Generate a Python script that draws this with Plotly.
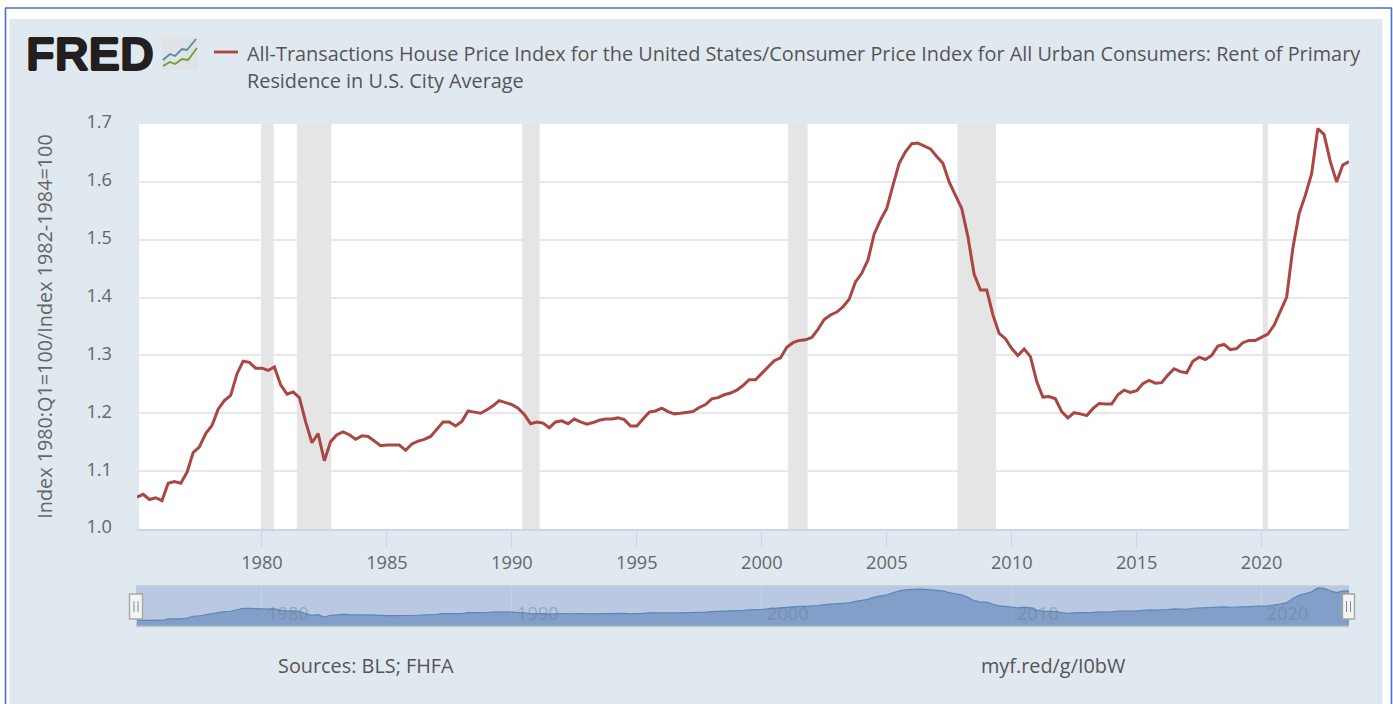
import pandas as pd
import plotly.graph_objects as go

TITLE_LINE_1 = "All-Transactions House Price Index for the United States/Consumer Price Index for All Urban Consumers: Rent of Primary"
TITLE_LINE_2 = "Residence in U.S. City Average"
Y_TITLE = "Index 1980:Q1=100/Index 1982-1984=100"
SOURCES = "Sources: BLS; FHFA"
SHORT_URL = "myf.red/g/I0bW"

START_QUARTER = "1975-01-01"
# quarterly values, one row per year, 1975 Q1 to 2023 Q3
ratio = [
    1.055, 1.060, 1.051, 1.054,
    1.049, 1.079, 1.082, 1.079,
    1.098, 1.132, 1.142, 1.165,
    1.179, 1.207, 1.222, 1.231,
    1.268, 1.290, 1.288, 1.278,
    1.278, 1.274, 1.280, 1.249,
    1.233, 1.237, 1.227, 1.185,
    1.149, 1.165, 1.118, 1.151,
    1.163, 1.168, 1.163, 1.155,
    1.161, 1.160, 1.152, 1.144,
    1.145, 1.145, 1.145, 1.136,
    1.147, 1.152, 1.155, 1.160,
    1.172, 1.185, 1.185, 1.178,
    1.186, 1.204, 1.202, 1.200,
    1.206, 1.213, 1.222, 1.218,
    1.215, 1.209, 1.198, 1.182,
    1.185, 1.183, 1.175, 1.185,
    1.187, 1.182, 1.190, 1.185,
    1.181, 1.184, 1.188, 1.190,
    1.190, 1.192, 1.189, 1.178,
    1.178, 1.190, 1.202, 1.204,
    1.209, 1.203, 1.199, 1.200,
    1.202, 1.203, 1.210, 1.215,
    1.225, 1.227, 1.232, 1.235,
    1.240, 1.248, 1.258, 1.258,
    1.269, 1.280, 1.291, 1.296,
    1.314, 1.322, 1.326, 1.327,
    1.331, 1.345, 1.362, 1.370,
    1.375, 1.384, 1.397, 1.427,
    1.442, 1.465, 1.510, 1.534,
    1.554, 1.594, 1.632, 1.652,
    1.666, 1.667, 1.662, 1.657,
    1.644, 1.632, 1.600, 1.577,
    1.554, 1.505, 1.440, 1.413,
    1.413, 1.370, 1.338, 1.329,
    1.312, 1.300, 1.311, 1.298,
    1.255, 1.228, 1.229, 1.225,
    1.203, 1.192, 1.201, 1.199,
    1.196, 1.208, 1.217, 1.216,
    1.216, 1.232, 1.240, 1.236,
    1.239, 1.251, 1.257, 1.252,
    1.253, 1.266, 1.277, 1.272,
    1.270, 1.290, 1.297, 1.293,
    1.300, 1.316, 1.319, 1.310,
    1.312, 1.322, 1.326, 1.326,
    1.331, 1.337, 1.352, 1.375,
    1.401, 1.485, 1.545, 1.577,
    1.614, 1.692, 1.682, 1.635,
    1.600, 1.629, 1.635,
]
recession_start = ["1979-12-20", "1981-05-25", "1990-06-01", "2001-01-20", "2007-11-01", "2020-01-15"]
recession_end = ["1980-06-20", "1982-10-10", "1991-02-10", "2001-11-01", "2009-05-15", "2020-04-01"]
y_ticks = [1.0, 1.1, 1.2, 1.3, 1.4, 1.5, 1.6, 1.7]
x_tick_years = [1980, 1985, 1990, 1995, 2000, 2005, 2010, 2015, 2020]
nav_tick_years = [1980, 1990, 2000, 2010, 2020]

dates = pd.date_range(START_QUARTER, periods=len(ratio), freq="QS")

W, H = 1393, 704
L, R, T, B = 137, 1349, 124, 627
MAIN_BOTTOM = 529
NAV_TOP = 586
FONT = "Open Sans"
TEXT = "#555555"
LINE = "#AA4643"
PANEL = "#E1E9F0"


def px(x):
    return (x - L) / (R - L)


def py(y):
    return 1 - (y - T) / (B - T)


def rect(x0, y0, x1, y1, fill, line=None, width=0, layer="below"):
    return dict(type="rect", xref="paper", yref="paper", x0=px(x0), x1=px(x1), y0=py(y0), y1=py(y1),
                fillcolor=fill, line=dict(color=line or fill, width=width), layer=layer)


def seg(x0, y0, x1, y1, color, width, layer="below"):
    return dict(type="line", xref="paper", yref="paper", x0=px(x0), x1=px(x1), y0=py(y0), y1=py(y1),
                line=dict(color=color, width=width), layer=layer)


def wiggle(points, color):
    d = "M " + " L ".join(f"{px(a):.5f},{py(b):.5f}" for a, b in points)
    return dict(type="path", xref="paper", yref="paper", path=d, line=dict(color=color, width=1.8), layer="above")


def note(x, y, text, size=19.85, color=TEXT, family=FONT, anchor="left", **font_extra):
    return dict(xref="paper", yref="paper", x=px(x), y=py(y), text=text, showarrow=False,
                xanchor=anchor, yanchor="middle", align="left",
                font=dict(family=family, size=size, color=color, **font_extra))


fig = go.Figure()
fig.add_trace(go.Scatter(x=dates, y=ratio, mode="lines", xaxis="x", yaxis="y", showlegend=False,
                         line=dict(color=LINE, width=3), cliponaxis=False, hoverinfo="x+y"))
fig.add_trace(go.Scatter(x=dates, y=ratio, mode="lines", xaxis="x2", yaxis="y2", showlegend=False,
                         fill="tozeroy", fillcolor="rgba(95,134,186,0.62)",
                         line=dict(color="#5F86BA", width=1.2), hoverinfo="skip"))

shapes = [
    seg(5.5, 8, 5.5, 704, "#4472C4", 1.6),
    seg(5, 8, 1392, 8, "#4472C4", 1.6),
    seg(1391.5, 8, 1391.5, 704, "#4472C4", 1.6),
    rect(9.5, 19, 1382.5, 704, PANEL),
    rect(139, T, R, MAIN_BOTTOM, "#FFFFFF"),
    rect(L - 1, NAV_TOP, R, B, "#B9C9E2"),
]
for a, b in zip(recession_start, recession_end):
    shapes.append(dict(type="rect", xref="x", yref="y", x0=a, x1=b, y0=y_ticks[0], y1=y_ticks[-1],
                       fillcolor="#E5E5E5", line=dict(width=0), layer="between"))
shapes += [
    seg(L - 1, 586, R, 586, "#C4C8CE", 1.6, "above"),
    seg(L - 1, 626.5, R, 626.5, "#C4C8CE", 1.6, "above"),
    seg(214, 52, 238, 52, LINE, 2.8, "above"),
    rect(162, 37, 198, 70, "#DFE3E5", layer="above"),
    wiggle([(163, 60), (170, 54), (175, 56), (182, 49), (187, 50), (196, 39)], "#5B8AA8"),
    wiggle([(163, 66), (170, 62), (175, 64), (182, 59), (188, 60), (197, 48)], "#6BA033"),
]
for hx0, hx1 in [(129.5, 142.5), (1342.5, 1354.5)]:
    shapes.append(rect(hx0, 594, hx1, 619, "#F4F4F4", "#A5A5A5", 1.4, "above"))
    mid = (hx0 + hx1) / 2
    shapes.append(seg(mid - 2, 601, mid - 2, 612, "#8A8A8A", 1, "above"))
    shapes.append(seg(mid + 2, 601, mid + 2, 612, "#8A8A8A", 1, "above"))

annotations = [
    note(24, 53, "<b>FRED</b>", size=47, color="#231F20", family="Liberation Sans",
         shadow="0.8px 0 0 #231F20, -0.8px 0 0 #231F20, 0 0.6px 0 #231F20, 0 -0.6px 0 #231F20"),
    note(245, 53, TITLE_LINE_1),
    note(245, 81, TITLE_LINE_2),
    note(276, 665, SOURCES),
    note(979, 665, SHORT_URL),
]

fig.update_layout(
    width=W, height=H, autosize=False,
    margin=dict(l=L, r=W - R, t=T, b=H - B, pad=0),
    paper_bgcolor="#FFFFFF", plot_bgcolor="rgba(0,0,0,0)",
    font=dict(family=FONT, color=TEXT, size=16),
    shapes=shapes, annotations=annotations, showlegend=False,
    xaxis=dict(domain=[0, 1], anchor="y", type="date",
               range=[dates[0], dates[-1]],
               tickmode="array", tickvals=[f"{v}-01-01" for v in x_tick_years],
               ticktext=[str(v) for v in x_tick_years],
               ticks="outside", ticklen=16, tickwidth=1, tickcolor="#CCD6EB",
               showline=True, linecolor="#CCD6EB", linewidth=1.5, showgrid=False, zeroline=False,
               tickfont=dict(family=FONT, size=18.2, color="#666666")),
    yaxis=dict(domain=[py(MAIN_BOTTOM), 1], anchor="x", range=[y_ticks[0], y_ticks[-1]],
               tickmode="array", tickvals=y_ticks, ticktext=[f"{v:.1f}" for v in y_ticks],
               showgrid=True, gridcolor="#E8E8E8", gridwidth=1.5, zeroline=False, showline=False,
               ticks="", ticklabelstandoff=24, ticklabelshift=-2,
               tickfont=dict(family=FONT, size=18.2, color="#666666"),
               title=dict(text=Y_TITLE, standoff=28, font=dict(family=FONT, size=19.8, color="#666666"))),
    xaxis2=dict(domain=[0, 1], anchor="y2", type="date",
                range=[dates[0], dates[-1]],
                tickmode="array", tickvals=[f"{v}-01-01" for v in nav_tick_years],
                ticktext=[str(v) for v in nav_tick_years],
                ticklabelposition="inside", ticklabelshift=26, ticklabelstandoff=0, ticks="",
                showgrid=True, gridcolor="#C6D1E3", gridwidth=1, showline=False, zeroline=False,
                tickfont=dict(family=FONT, size=18.2, color="rgba(110,120,135,0.42)")),
    yaxis2=dict(domain=[0, py(NAV_TOP)], anchor="x2", range=[0.92, 1.73],
                showgrid=False, showticklabels=False, ticks="", showline=False, zeroline=False),
)

fig.write_html("out.html", config=dict(displayModeBar=False),
               post_script="document.body.style.margin='0';document.body.style.overflow='hidden';")
